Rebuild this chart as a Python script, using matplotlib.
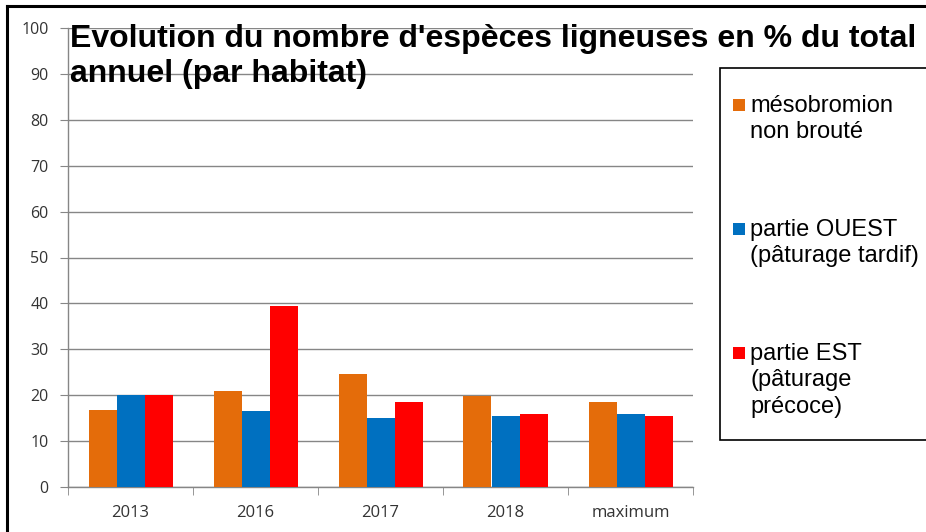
import numpy as np
import matplotlib
matplotlib.use("Agg")
import matplotlib.pyplot as plt
from matplotlib.patches import Rectangle
from matplotlib.lines import Line2D

# données
categories = ["2013", "2016", "2017", "2018", "maximum"]
mesobromion = [16.8, 20.9, 24.7, 19.8, 18.6]
ouest = [20.0, 16.6, 15.0, 15.5, 15.8]
est = [20.0, 39.5, 18.6, 16.0, 15.5]

series_names = ["mésobromion\nnon brouté",
                "partie OUEST\n(pâturage tardif)",
                "partie EST\n(pâturage\nprécoce)"]
series_colors = ["#E46C0A", "#0070C0", "#FF0000"]

W, H = 926, 532
fig = plt.figure(figsize=(W / 100, H / 100), dpi=100)
ax = fig.add_axes([68 / W, 1 - 487 / H, (693 - 68) / W, (487 - 28) / H])

x = np.arange(len(categories))
bw = 0.224
for k, vals in enumerate([mesobromion, ouest, est]):
    ax.bar(x + (k - 1) * bw, vals, width=bw, color=series_colors[k],
           edgecolor="none", zorder=3)

grid_col = "#868686"
ax.set_xlim(-0.5, len(categories) - 0.5)
ax.set_ylim(0, 100)
ax.set_yticks(np.arange(0, 101, 10))
ax.yaxis.grid(True, color=grid_col, linewidth=1, zorder=0)
ax.set_axisbelow(True)

ax.set_xticks(x)
ax.set_xticklabels(categories)
ax.set_xticks(np.arange(-0.5, len(categories), 1), minor=True)
ax.tick_params(axis="x", which="major", length=0, pad=13,
               labelsize=12, labelcolor="#333333")
ax.tick_params(axis="x", which="minor", length=6, color=grid_col)
ax.tick_params(axis="y", length=6, color=grid_col, pad=8,
               labelsize=11.5, labelcolor="#333333")
for lab in ax.get_xticklabels() + ax.get_yticklabels():
    lab.set_fontfamily("Open Sans")

for s in ["top", "right"]:
    ax.spines[s].set_visible(False)
for s in ["left", "bottom"]:
    ax.spines[s].set_color(grid_col)
    ax.spines[s].set_linewidth(1)

# titre
fig.text(70 / W, 1 - 24 / H,
         "Evolution du nombre d'espèces ligneuses en % du total\nannuel (par habitat)",
         fontsize=23, fontweight="bold", family="Liberation Sans",
         va="top", ha="left", linespacing=1.22, zorder=5)

# légende (cadre qui déborde à droite)
fig.patches.append(Rectangle((720 / W, 1 - 440 / H), 260 / W, (440 - 68) / H,
                             transform=fig.transFigure, facecolor="white",
                             edgecolor="black", linewidth=1.2, zorder=4))
y_starts = [105, 229, 353]
for name, col, y0 in zip(series_names, series_colors, y_starts):
    fig.patches.append(Rectangle((733 / W, 1 - (y0 + 6) / H), 12 / W, 12 / H,
                                 transform=fig.transFigure, facecolor=col,
                                 edgecolor="none", zorder=5))
    fig.text(750 / W, 1 - (y0 - 10) / H, name, fontsize=17,
             family="Liberation Sans", va="top", ha="left",
             linespacing=1.26, zorder=6)

# cadre noir haut / gauche
fig.add_artist(Line2D([7 / W, 1], [1 - 6 / H, 1 - 6 / H], color="black",
                      linewidth=2.2, transform=fig.transFigure))
fig.add_artist(Line2D([7 / W, 7 / W], [0, 1 - 6 / H], color="black",
                      linewidth=2.2, transform=fig.transFigure))

fig.savefig("out.png", dpi=100)
